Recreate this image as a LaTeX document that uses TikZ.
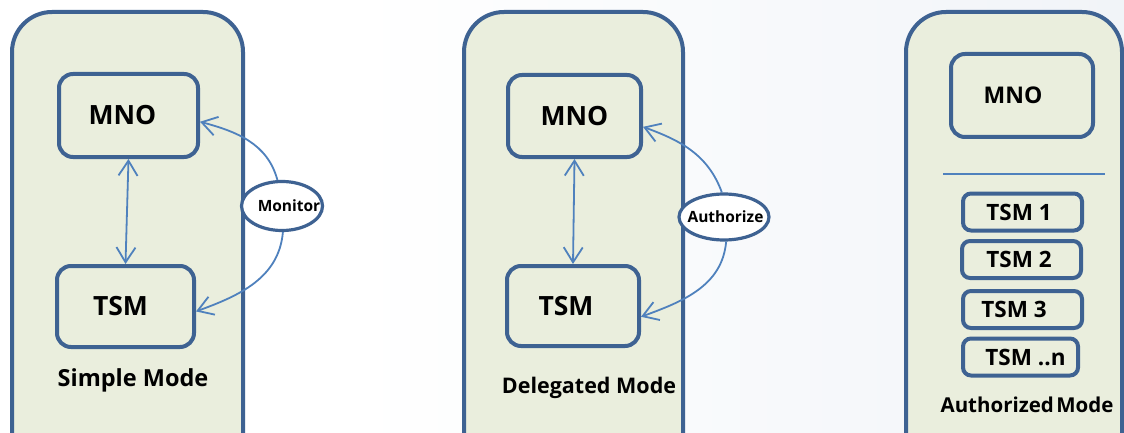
\documentclass[tikz,border=0pt]{standalone}
\usepackage{fontspec}
\setmainfont{Open Sans}
\usetikzlibrary{arrows.meta,shapes.geometric}
\definecolor{frame}{HTML}{3E6292}
\definecolor{panelfill}{HTML}{EAEEDD}
\definecolor{arrowblue}{HTML}{4F81BD}
\definecolor{bgright}{HTML}{F1F4F8}
\tikzset{
  panel/.style={draw=frame, line width=4pt, fill=panelfill, rounded corners=40pt, rectangle},
  bigbox/.style={draw=frame, line width=4pt, fill=panelfill, rounded corners=14pt, rectangle,
    font=\bfseries\fontsize{26.5}{26.5}\selectfont, inner sep=0pt},
  smallbox/.style={draw=frame, line width=4pt, fill=panelfill, rounded corners=8pt, rectangle,
    font=\bfseries\fontsize{22.5}{22.5}\selectfont, inner sep=0pt,
    minimum width=119pt, minimum height=37pt},
  tag/.style={ellipse, draw=frame, line width=3.2pt, fill=white, inner sep=0pt,
    font=\bfseries\fontsize{15.5}{15.5}\selectfont},
  arr/.style={draw=arrowblue, line width=1.8pt, -{Straight Barb[length=15pt,width=19pt,line width=1.8pt]}},
  darr/.style={draw=arrowblue, line width=1.8pt, {Straight Barb[length=15pt,width=19pt,line width=1.8pt]}-{Straight Barb[length=15pt,width=19pt,line width=1.8pt]}},
  modelabel/.style={font=\bfseries, inner sep=0pt}
}
\begin{document}
\begin{tikzpicture}[x=1pt,y=-1pt]
\useasboundingbox (0,0) rectangle (1124,433);
\clip (0,0) rectangle (1124,433);
\fill[white] (0,0) rectangle (1124,433);
\shade[left color=white, right color=bgright] (355,0) rectangle (1124,433);

% ---- Panel 1: Simple Mode
\node[panel, minimum width=231pt, minimum height=470pt, anchor=north west] (p1) at (10,10) {};
\node[bigbox, minimum width=139pt, minimum height=83pt] (mno1) at (128.5,115.5) {\hspace*{-12pt}MNO};
\node[bigbox, minimum width=137pt, minimum height=81pt] (tsm1) at (125.5,306.5) {\hspace*{-10pt}TSM};
\node[modelabel, font=\bfseries\fontsize{23.5}{23.5}\selectfont] (l1) at (133,380) {Simple Mode};
\draw[darr] (mno1.south) -- (tsm1.north);
\node[tag, minimum width=81pt, minimum height=49pt] (mon) at (282,206) {\makebox[0pt]{\hspace*{14pt}Monitor}};
\draw[arr] (mon.100) to[out=105,in=-15] (mno1.-5);
\draw[arr] (mon.-88) to[out=-95,in=20] (tsm1.-4);

% ---- Panel 2: Delegated Mode
\node[panel, minimum width=219pt, minimum height=470pt, anchor=north west] (p2) at (462,10) {};
\node[bigbox, minimum width=133pt, minimum height=82pt] (mno2) at (574.5,116) {MNO};
\node[bigbox, minimum width=132pt, minimum height=80pt] (tsm2) at (573,306) {\hspace*{-14pt}TSM};
\node[modelabel, font=\bfseries\fontsize{21.5}{21.5}\selectfont] (l2) at (589,388) {Delegated Mode};
\draw[darr] (mno2.south) -- (tsm2.north);
\node[tag, minimum width=90pt, minimum height=46pt] (auth) at (724,217) {\makebox[0pt]{\hspace*{3pt}Authorize}};
\draw[arr] (auth.95) to[out=110,in=-20] (mno2.-9);
\draw[arr] (auth.-85) to[out=-95,in=20] (tsm2.-9);

% ---- Panel 3: Authorized Mode
\node[panel, minimum width=216pt, minimum height=470pt, anchor=north west] (p3) at (904,10) {};
\node[bigbox, font=\bfseries\fontsize{23}{23}\selectfont, minimum width=142pt, minimum height=83pt] (mno3) at (1022,95.5) {\hspace*{-18pt}MNO};
\coordinate (sepL) at (943,174);
\coordinate (sepR) at (1105,174);
\draw[arrowblue, line width=2pt] (sepL) -- (sepR);
\node[smallbox] (t1) at (1022.5,212) {\hspace*{-7pt}TSM 1};
\node[smallbox] (t2) at (1021.5,259.5) {\hspace*{-5pt}TSM 2};
\node[smallbox] (t3) at (1022.5,309.5) {\hspace*{-17pt}TSM 3};
\node[smallbox, minimum width=115pt] (tn) at (1020.5,357) {\hspace*{10pt}TSM ..n};
\node[modelabel, font=\bfseries\fontsize{20.5}{20.5}\selectfont] (l3) at (1027,405) {Authorized\hspace{-3pt} Mode};
\end{tikzpicture}
\end{document}
